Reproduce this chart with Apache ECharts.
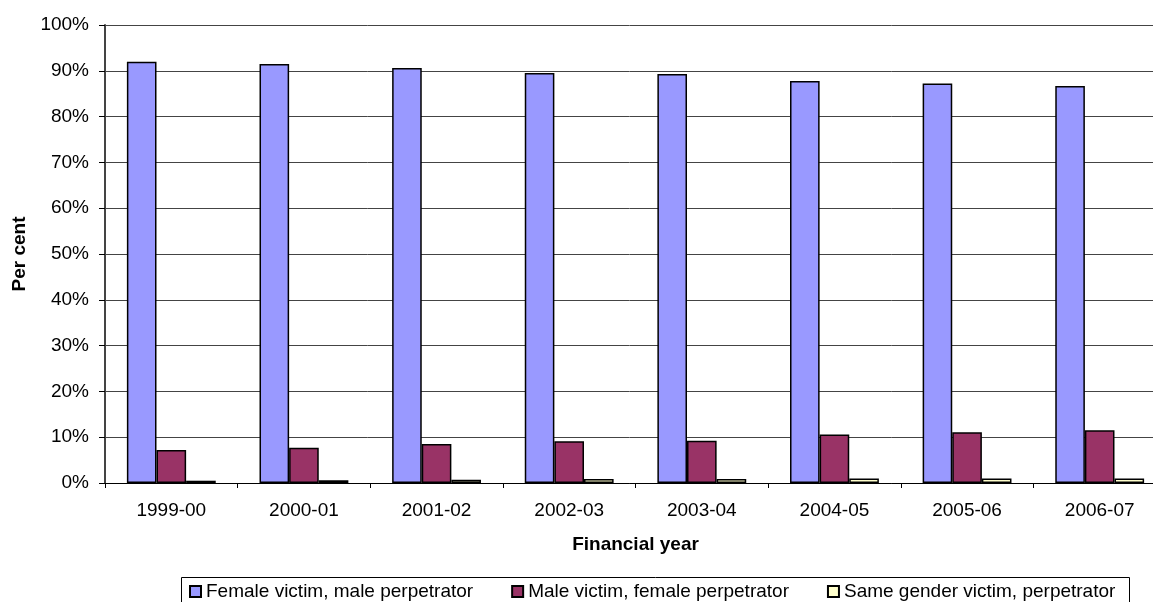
<!DOCTYPE html>
<html>
<head>
<meta charset="utf-8">
<script src="https://cdn.jsdelivr.net/npm/echarts@6/dist/echarts.min.js"></script>
<style>
  html, body { margin: 0; padding: 0; background: #fff; }
  #chart { width: 1153px; height: 602px; }
</style>
</head>
<body>
<div id="chart"></div>
<script>
// categories and values (per cent)
var years = ['1999-00', '2000-01', '2001-02', '2002-03', '2003-04', '2004-05', '2005-06', '2006-07'];
var femaleVictim = [92.0, 91.5, 90.6, 89.5, 89.3, 87.8, 87.2, 86.7];
var maleVictim = [7.2, 7.7, 8.5, 9.1, 9.2, 10.6, 11.1, 11.5];
var sameGender = [0.5, 0.6, 0.7, 0.9, 0.9, 1.0, 1.0, 1.0];
var seriesNames = ['Female victim, male perpetrator', 'Male victim, female perpetrator', 'Same gender victim, perpetrator'];
var colors = ['#9999FF', '#993366', '#FFFFCC'];

var font = 'Liberation Sans, Arial, sans-serif';
var fs = 19;
var myChart = echarts.init(document.getElementById('chart'));

function bar(name, data, color) {
    return {
        name: name,
        type: 'bar',
        data: data,
        barGap: '0%',
        barCategoryGap: '33%',
        itemStyle: { color: color, borderColor: '#000', borderWidth: 1.5 }
    };
}

var option = {
    animation: false,
    textStyle: { fontFamily: font },
    // the plot runs past the right edge of the picture, as in the reference
    grid: { left: 105, top: 25, width: 1061, height: 458, containLabel: false, outerBoundsMode: 'none' },
    legend: {
        left: 189,
        top: 582,
        padding: 0,
        icon: 'rect',
        itemGap: 38,
        itemWidth: 11,
        itemHeight: 11,
        textStyle: { fontFamily: font, fontSize: fs, color: '#000' },
        data: seriesNames
    },
    graphic: [{
        type: 'rect',
        shape: { x: 181.5, y: 577.5, width: 948, height: 40 },
        style: { fill: 'none', stroke: '#000', lineWidth: 1 }
    }],
    xAxis: {
        type: 'category',
        data: years,
        name: 'Financial year',
        nameLocation: 'middle',
        nameGap: 52,
        nameTextStyle: { fontFamily: font, fontSize: fs, fontWeight: 'bold', color: '#000' },
        axisLine: { lineStyle: { color: '#000', width: 1 } },
        axisTick: { show: true, length: 5, lineStyle: { color: '#000' } },
        axisLabel: { fontFamily: font, fontSize: fs, color: '#000', margin: 18 }
    },
    yAxis: {
        type: 'value',
        min: 0,
        max: 100,
        interval: 10,
        name: 'Per cent',
        nameLocation: 'middle',
        nameGap: 75,
        nameRotate: 90,
        nameTextStyle: { fontFamily: font, fontSize: fs, fontWeight: 'bold', color: '#000' },
        axisLine: { show: true, lineStyle: { color: '#444', width: 2 } },
        axisTick: { show: true, length: 6, lineStyle: { color: '#000' } },
        axisLabel: { fontFamily: font, fontSize: fs, color: '#000', margin: 16, formatter: '{value}%' },
        splitLine: { lineStyle: { color: '#444', width: 1 } }
    },
    series: [
        bar(seriesNames[0], femaleVictim, colors[0]),
        bar(seriesNames[1], maleVictim, colors[1]),
        bar(seriesNames[2], sameGender, colors[2])
    ]
};

myChart.setOption(option);
</script>
</body>
</html>
